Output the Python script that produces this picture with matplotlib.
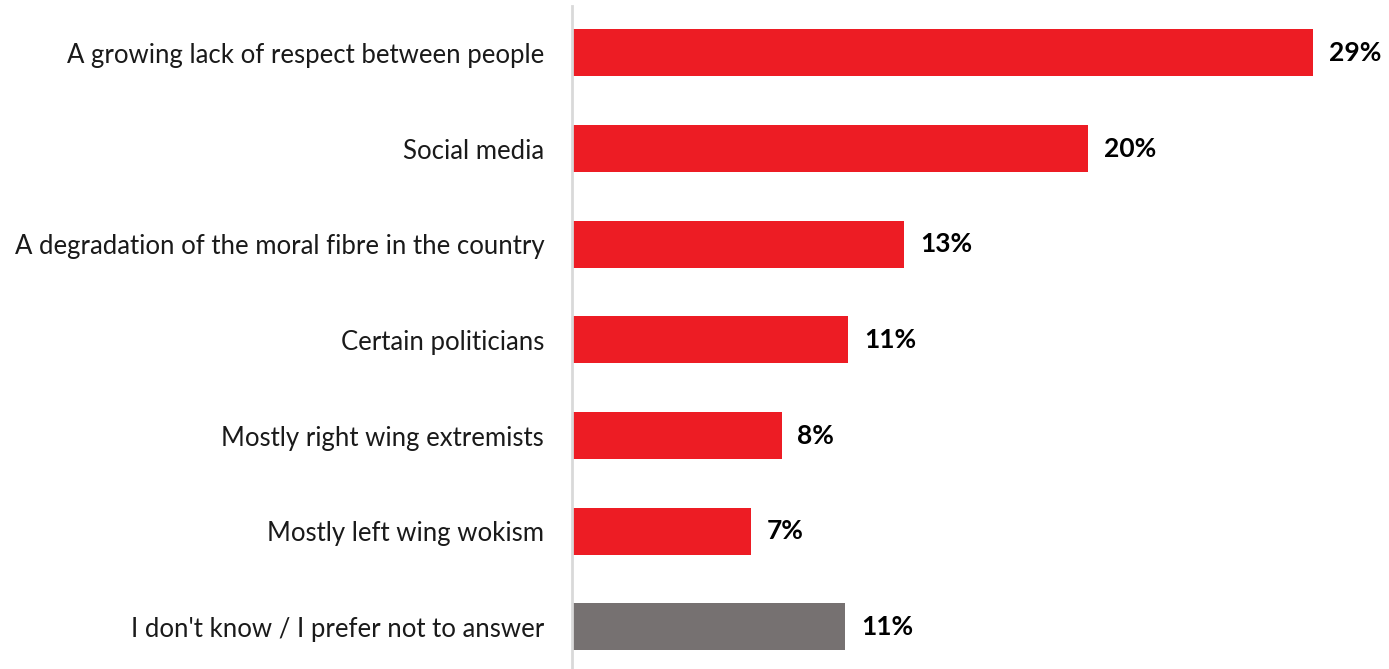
import matplotlib.pyplot as plt

# --- dados ---
categories = [
    "A growing lack of respect between people",
    "Social media",
    "A degradation of the moral fibre in the country",
    "Certain politicians",
    "Mostly right wing extremists",
    "Mostly left wing wokism",
    "I don't know / I prefer not to answer",
]
values = [29.0, 20.2, 13.0, 10.8, 8.2, 7.0, 10.7]
labels = ["29%", "20%", "13%", "11%", "8%", "7%", "11%"]
colors = ["#ED1C24"] * 6 + ["#767171"]

plt.rcParams['font.family'] = ['Lato', 'DejaVu Sans']

fig = plt.figure(figsize=(13.89, 6.69), dpi=100)
ax = fig.add_axes([572 / 1389, 0.0, 1 - 572 / 1389, 663 / 669])

y = list(range(len(categories)))
ax.barh(y, values, height=0.49, color=colors, zorder=2)

for yi, v, lab in zip(y, values, labels):
    ax.text(v + 0.62, yi, lab, va='center', ha='left',
            fontsize=19, fontweight='bold', color='black')

ax.set_yticks(y)
ax.set_yticklabels(categories, fontsize=18.5, color='#1a1a1a')
ax.tick_params(axis='y', length=0, pad=20)
ax.set_xticks([])
ax.set_ylim(6.44, -0.49)
ax.set_xlim(0, 817 / 25.55)

for side in ['top', 'right', 'bottom']:
    ax.spines[side].set_visible(False)
ax.spines['left'].set_color('#D9D9D9')
ax.spines['left'].set_linewidth(2)

fig.savefig("out.png", dpi=100)
